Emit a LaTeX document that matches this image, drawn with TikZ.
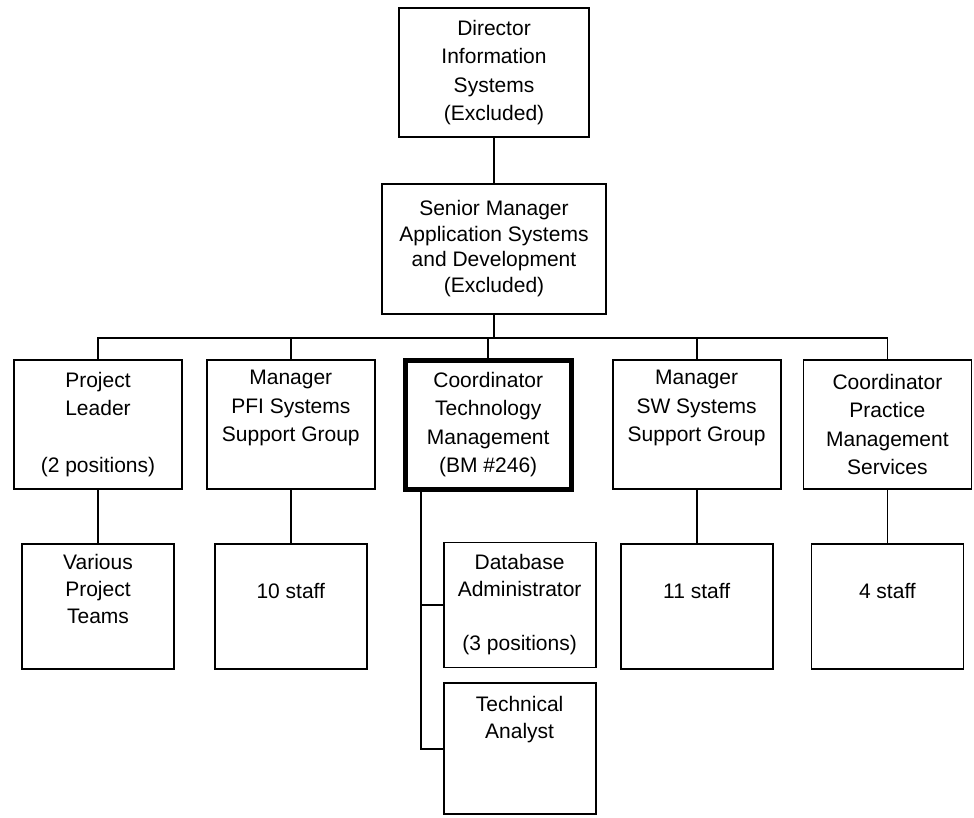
\documentclass[tikz,border=0pt]{standalone}
\usepackage{fontspec}
\setmainfont{Liberation Sans}
\usetikzlibrary{positioning}

\begin{document}
\begin{tikzpicture}[
			x=1pt, y=-1pt,
			line width=1.8pt,
			every node/.style={
				draw,
				line width=1.8pt,
				inner sep=0pt,
				align=center,
				font=\fontsize{21}{28.5}\selectfont
			},
			topbox/.style={minimum width=190pt, minimum height=129pt},
			midbox/.style={minimum width=224pt, minimum height=130pt, font=\fontsize{21}{25.5}\selectfont},
			rolebox/.style={minimum width=168pt, minimum height=129pt},
			staffbox/.style={minimum width=152pt, minimum height=125pt, font=\fontsize{21}{27}\selectfont}
			]
			
			\path[use as bounding box, fill=white] (0,0) rectangle (974,817);
			
			%%%%%%%%%%%%%%%%%%%%%%%%%%%%%%%%%%%%%%%%%%%%%%%%%%%%%%%%%%%%
			% Top Layer
			%%%%%%%%%%%%%%%%%%%%%%%%%%%%%%%%%%%%%%%%%%%%%%%%%%%%%%%%%%%%
			
			\node (dir) [topbox] at (494,72.5)
			{Director\\Information\\Systems\\(Excluded)};
			
			\node (smgr) [midbox, below=45pt of dir]
			{Senior Manager\\Application Systems\\and Development\\(Excluded)};
			
			%%%%%%%%%%%%%%%%%%%%%%%%%%%%%%%%%%%%%%%%%%%%%%%%%%%%%%%%%%%%
			% Manager Layer
			%%%%%%%%%%%%%%%%%%%%%%%%%%%%%%%%%%%%%%%%%%%%%%%%%%%%%%%%%%%%
			
			\node (pl) [rolebox] at (98,424.5)
			{Project\\Leader\\[28.5pt](2 positions)};
			
			\node (pfi) [rolebox, right=23pt of pl]
			{Manager\\PFI Systems\\Support Group\\\strut};
			
			\node (coord) [rolebox, minimum width=166pt, minimum height=129pt, line width=5pt, right=27pt of pfi]
			{Coordinator\\Technology\\Management\\(BM \#246)};
			
			\node (sw) [rolebox, right=38pt of coord]
			{Manager\\SW Systems\\Support Group\\\strut};
			
			\node (pms) [rolebox, right=21pt of sw]
			{Coordinator\\Practice\\Management\\Services};
			
			%%%%%%%%%%%%%%%%%%%%%%%%%%%%%%%%%%%%%%%%%%%%%%%%%%%%%%%%%%%%
			% Staff Layer
			%%%%%%%%%%%%%%%%%%%%%%%%%%%%%%%%%%%%%%%%%%%%%%%%%%%%%%%%%%%%
			
			\node (teams) [staffbox, below=53pt of pl]
			{Various\\Project\\Teams\\\strut};
			
			\node (tenstaff) [staffbox, below=53pt of pfi]
			{\strut\\10 staff\\\strut\\\strut};
			
			\node (dba) [staffbox, anchor=north west] at ([xshift=40pt,yshift=-50pt]coord.south west)
			{Database\\Administrator\\[27pt](3 positions)};
			
			\node (tech) [staffbox, minimum height=131pt, below=14pt of dba]
			{Technical\\Analyst\\\strut\\\strut};
			
			\node (elevenstaff) [staffbox, below=53pt of sw]
			{\strut\\11 staff\\\strut\\\strut};
			
			\node (fourstaff) [staffbox, below=53pt of pms]
			{\strut\\4 staff\\\strut\\\strut};
			
			%%%%%%%%%%%%%%%%%%%%%%%%%%%%%%%%%%%%%%%%%%%%%%%%%%%%%%%%%%%%
			% Connections
			%%%%%%%%%%%%%%%%%%%%%%%%%%%%%%%%%%%%%%%%%%%%%%%%%%%%%%%%%%%%
			
			% Director to Senior Manager
			
			\draw (dir) -- (smgr);
			
			% Senior Manager to managers
			
			\coordinate (bus) at ([yshift=-23pt]smgr.south);
			
			\draw (smgr) -- (bus);
			
			\draw (pl.north) |- (bus) -| (pms.north);
			
			\draw (pfi.north) -- (pfi.north |- bus);
			
			\draw (coord.north) -- (coord.north |- bus);
			
			\draw (sw.north) -- (sw.north |- bus);
			
			% Managers to staff
			
			\draw (pl) -- (teams);
			
			\draw (pfi) -- (tenstaff);
			
			\draw (sw) -- (elevenstaff);
			
			\draw (pms) -- (fourstaff);
			
			% Coordinator branch
			
			\coordinate (trunk) at ([xshift=18pt]coord.south west);
			
			\draw (trunk) |- (tech.west);
			
			\draw (trunk |- dba.west) -- (dba.west);
			
			%%%%%%%%%%%%%%%%%%%%%%%%%%%%%%%%%%%%%%%%%%%%%%%%%%%%%%%%%%%%
			
		\end{tikzpicture}
\end{document}
